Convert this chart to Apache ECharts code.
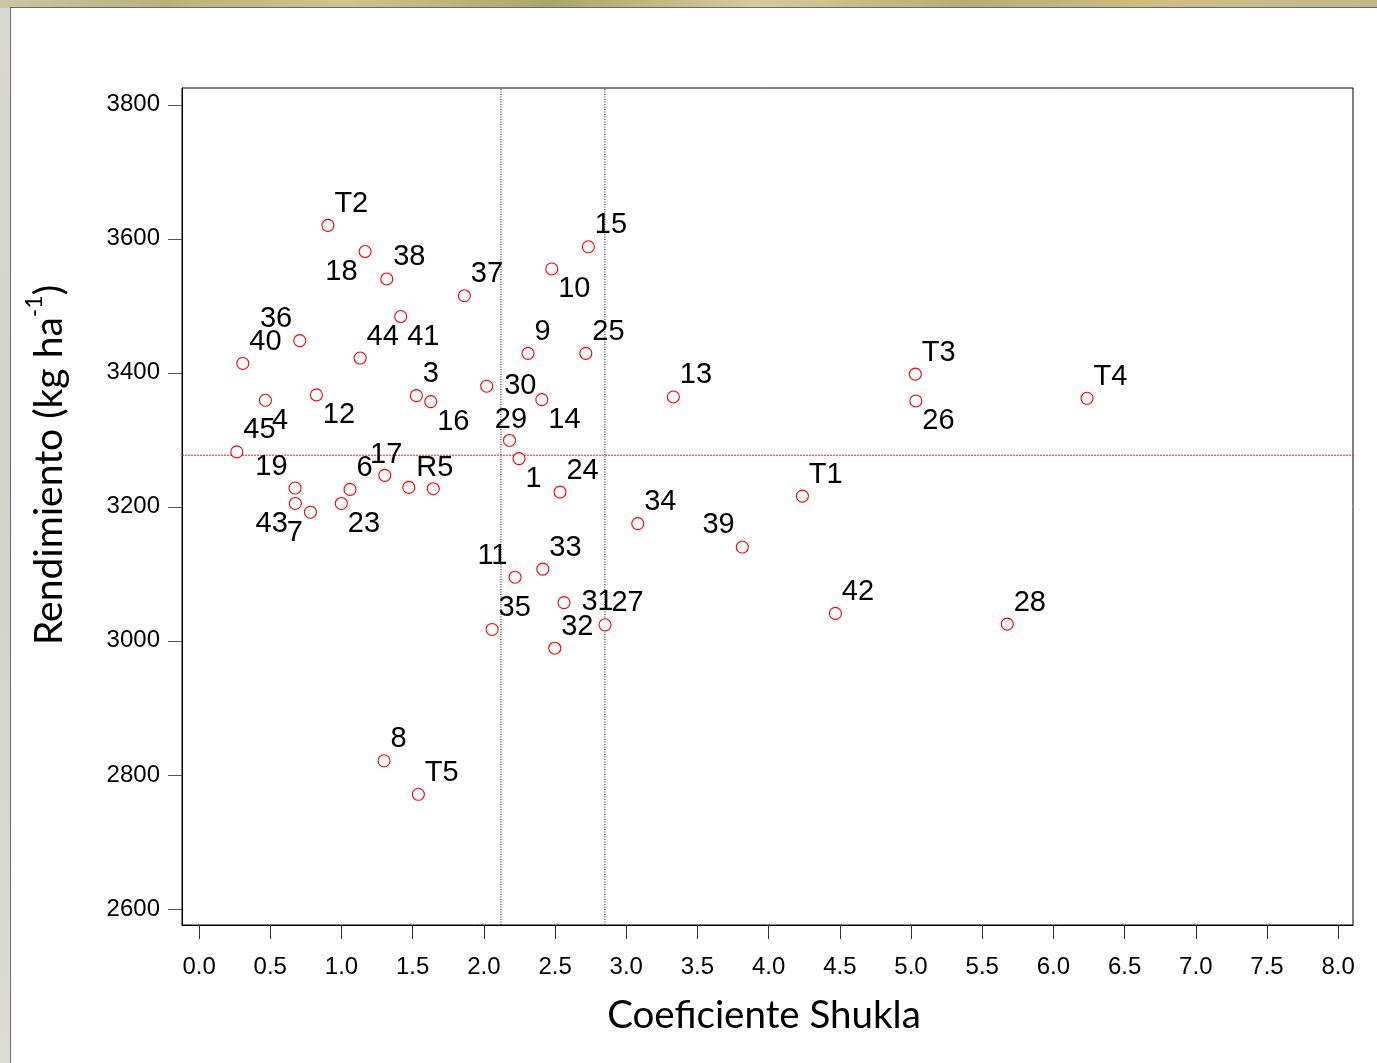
<!DOCTYPE html>
<html>
<head>
<meta charset="utf-8">
<script src="https://cdn.jsdelivr.net/npm/echarts@6/dist/echarts.min.js"></script>
<style>
  html, body { margin: 0; padding: 0; width: 1377px; height: 1063px; overflow: hidden; }
  body { background: linear-gradient(to bottom, #d9d9cf, #d2d4c8 50%, #dcdcd4); position: relative; }
  #topband { position: absolute; left: 0; top: 0; width: 1377px; height: 8px;
    background: linear-gradient(to right, #c9c7a8 0%, #b8b27a 12%, #cfc48c 25%, #a9a66c 40%, #d6cc98 55%, #b5ae74 70%, #cdbf86 85%, #bfb88a 100%); }
  #panel { position: absolute; left: 10px; top: 7px; width: 1367px; height: 1056px; background: #fff;
    border-left: 1px solid #6a6a6a; border-top: 1px solid #6a6a6a; box-sizing: border-box; }
  #main { position: absolute; left: 0; top: 0; width: 1377px; height: 1063px; }
</style>
</head>
<body>
<div id="topband"></div>
<div id="panel"></div>
<div id="main"></div>
<script>
// ---- data ----
const names = ['T2','18','38','37','10','15','36','40','44','41','9','25','3','16','30','14','29','1','12','4','45','19','43','7','23','6','17','','R5','11','33','35','31','27','32','24','34','39','13','T3','26','T4','T1','42','28','8','T5'];
const shukla = [0.905,1.166,1.318,1.863,2.477,2.734,0.707,0.307,1.131,1.416,2.310,2.716,1.526,1.627,2.020,2.407,2.180,2.247,0.824,0.466,0.265,0.674,0.676,0.782,0.999,1.060,1.304,1.473,1.645,2.219,2.414,2.058,2.563,2.851,2.498,2.535,3.081,3.815,3.331,5.030,5.034,6.236,4.237,4.469,5.676,1.299,1.540];
const rendimiento = [3620,3581,3540,3515,3555,3588,3448,3414,3422,3484,3429,3429,3366,3357,3380,3360,3299,3272,3367,3359,3282,3228,3205,3192,3205,3226,3247,3229,3227,3095,3107,3017,3057,3024,2989,3222,3175,3140,3364,3398,3358,3362,3216,3041,3025,2821,2771];
const xTicks = [0,0.5,1,1.5,2,2.5,3,3.5,4,4.5,5,5.5,6,6.5,7,7.5,8];
const yTicks = [2600,2800,3000,3200,3400,3600,3800];
const xRange = [-0.12, 8.104];
const yRange = [2576, 3825];
const shuklaRefs = [2.12, 2.85];
const yieldMean = 3277;

// ---- label placement (style, kept apart from data) ----
const placement = ['ur','ll','ur','ur','lr','ur','ul','ur','ur','lr','ur','ur','ur','lr','r','lr','t','lr','lr','lr','ur','ul','ll','ll','lr','ur','t','none','t','ul','ur','ur','r','ur','ur','ur','ur','ul','ur','ur','lr','ur','ur','ur','ur','ur','ur'];
const placeStyle = {
  ur: { align: 'left',   d: [7, -21] },
  lr: { align: 'left',   d: [7, 21] },
  ul: { align: 'right',  d: [-7, -21] },
  ll: { align: 'right',  d: [-7, 21] },
  t:  { align: 'center', d: [2, -20] },
  r:  { align: 'left',   d: [18, 0] }
};
const symSize = 12;

const numFont = '"Liberation Sans", Arial, sans-serif';
const labelSize = 29;
const tickSize = 24;
const titleFont = 'Lato, "Open Sans", sans-serif';

const chart = echarts.init(document.getElementById('main'), null, { renderer: 'canvas' });

const seriesData = names.map((n, i) => {
  const p = placement[i];
  const item = { name: n, value: [shukla[i], rendimiento[i]] };
  if (p === 'none' || !n) {
    item.label = { show: false };
  } else {
    const s = placeStyle[p];
    item.label = {
      show: true,
      position: [symSize / 2 + s.d[0], symSize / 2 + s.d[1]],
      align: s.align, verticalAlign: 'middle'
    };
  }
  return item;
});

function refLine(points, color, dash) {
  return {
    type: 'line', data: points, symbol: 'none', silent: true, z: 1,
    lineStyle: { color: color, width: 1, type: dash, opacity: 1 },
    itemStyle: { color: color },
    emphasis: { disabled: true }
  };
}

const option = {
  animation: false,
  backgroundColor: 'transparent',
  grid: { left: 182, right: 24, top: 88, bottom: 138, show: true, borderColor: '#000', borderWidth: 1, backgroundColor: 'transparent' },
  xAxis: {
    type: 'value', min: xRange[0], max: xRange[1],
    axisLine: { show: true, onZero: false, lineStyle: { color: '#000', width: 1 } },
    axisTick: { show: true, customValues: xTicks, length: 14, lineStyle: { color: '#333' } },
    axisLabel: { customValues: xTicks, formatter: v => v.toFixed(1), margin: 30, fontSize: tickSize, fontFamily: numFont, color: '#000' },
    splitLine: { show: false }
  },
  yAxis: {
    type: 'value', min: yRange[0], max: yRange[1],
    axisLine: { show: true, onZero: false, lineStyle: { color: '#000', width: 1 } },
    axisTick: { show: true, customValues: yTicks, length: 14, lineStyle: { color: '#555' } },
    axisLabel: { customValues: yTicks, formatter: v => String(v), margin: 22, fontSize: tickSize, fontFamily: numFont, color: '#000' },
    splitLine: { show: false }
  },
  series: [
    refLine([[xRange[0], yieldMean], [xRange[1], yieldMean]], '#ff1a1a', [2, 1]),
    refLine([[shuklaRefs[0], yRange[0]], [shuklaRefs[0], yRange[1]]], '#111111', [1, 1.5]),
    refLine([[shuklaRefs[1], yRange[0]], [shuklaRefs[1], yRange[1]]], '#111111', [1, 1.5]),
    {
      type: 'scatter',
      symbol: 'circle',
      symbolSize: symSize,
      itemStyle: { color: '#ffffff', borderColor: '#ff0000', borderWidth: 1.1, opacity: 1 },
      label: { show: true, formatter: '{b}', fontSize: labelSize, fontFamily: numFont, color: '#000' },
      data: seriesData,
      z: 3
    }
  ],
  graphic: [
    {
      type: 'text', x: 46, y: 465, rotation: Math.PI / 2, silent: true,
      style: {
        text: '{a|Rendimiento (kg ha}{b|-1}{a|)}',
        align: 'center', verticalAlign: 'middle',
        rich: {
          a: { fontFamily: titleFont, fontSize: 39, fill: '#000', lineHeight: 46, verticalAlign: 'bottom' },
          b: { fontFamily: titleFont, fontSize: 23, fill: '#000', lineHeight: 46, verticalAlign: 'top' }
        }
      }
    },
    {
      type: 'text', x: 764, y: 1016, silent: true,
      style: { text: 'Coeficiente Shukla', align: 'center', verticalAlign: 'middle', fontFamily: titleFont, fontSize: 38.5, fill: '#000' }
    }
  ]
};
chart.setOption(option);
</script>
</body>
</html>
